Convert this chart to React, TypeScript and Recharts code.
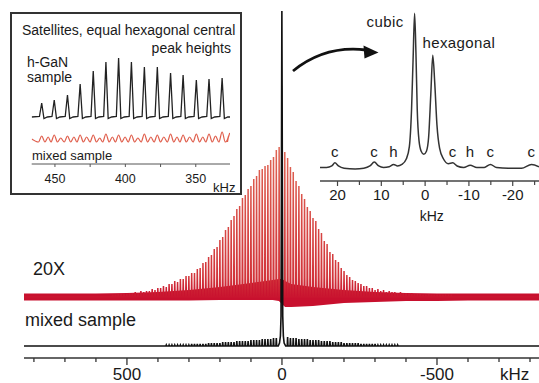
import React from 'react';
import { ComposedChart, Line, Area, Scatter, XAxis, YAxis } from 'recharts';

const FONT = '"Liberation Sans", Arial, sans-serif';
const INK = '#1a1a1a';

// ---- main spectrum (kHz axis, reversed) ----
const SPIN = 9.1; // sideband spacing, kHz
const RED_BASE = 49;
// 20X red trace: sideband heights for n = 1.. on the + side and - side
const redPlus = [
  150, 147, 140, 137, 132, 131, 128, 127, 121, 118,
  111, 108, 102, 99, 91, 88, 81, 77, 70, 67,
  60, 57, 50, 48, 42, 40, 35, 34, 29, 28,
  24, 24, 21, 21, 18, 18, 15, 16, 13, 13,
  10, 11, 9, 9, 7, 8, 6, 6, 5, 6,
  4, 5, 4, 4, 3, 3, 3, 3, 2, 2,
];
const redMinus = [
  145, 139, 130, 125, 116, 111, 103, 98, 90, 86,
  79, 76, 68, 64, 56, 53, 45, 43, 37, 35,
  29, 26, 22, 20, 17, 16, 14, 13, 11, 11,
  9, 9, 7, 8, 6, 7, 5, 6, 5, 5,
  4, 5, 4, 4, 3, 4, 3, 3, 3, 2,
  2, 3, 2, 2, 2, 2, 2, 1, 1, 1,
];
// noise band of the red trace (offsets from its baseline)
const bandKHz = [832, 700, 600, 500, 400, 300, 200, 100, 30, 10, 0, -10, -30, -100, -200, -300, -400, -500, -600, -700, -829];
const bandLo = [-3.5, -3.5, -3.5, -3.5, -3.5, -3.5, -3, -3, -3, -4, -7, -10, -10, -9, -6, -5, -4, -4, -3.5, -3.5, -3.5];
const bandHi = [3.5, 3.5, 3.5, 4, 5, 7, 10, 14, 17, 18, 18, 16, 13, 10, 7, 5, 4, 3.5, 3.5, 3.5, 3.5];
// black (mixed sample) trace: sidebands n = 2.. and central line
const blackPlus = [8, 8, 7, 7, 7, 7, 6, 6, 6, 6, 5, 5, 5, 5, 5, 4, 4, 4, 4, 4, 3, 3, 3, 3, 3, 2, 2, 2, 2, 2, 2, 1, 1, 1, 1, 1, 1, 1, 1, 1];
const blackMinus = [9, 8, 8, 8, 7, 7, 7, 7, 6, 6, 6, 6, 5, 5, 5, 5, 4, 4, 4, 4, 3, 3, 3, 3, 3, 3, 2, 2, 2, 2, 2, 2, 1, 1, 1, 1, 1, 1, 1, 1];
const centralKHz = [12, 8, 5, 3, 1.8, 1, 0.3, -0.5, -1.3, -2.5, -4.5, -7, -12];
const centralVal = [0, 3, 10, 30, 150, 260, 335, 260, 150, 30, 10, 3, 0];
const mainTicks = [-800, -700, -600, -500, -400, -300, -200, -100, 0, 100, 200, 300, 400, 500, 600, 700, 800];
const mainLabels = [500, 0, -500];

// ---- inset: satellites ----
const satKHz = [459.4, 450.5, 441.1, 432.1, 422.8, 413.8, 404.8, 395.7, 386.5, 377.3, 367.9, 359.0, 349.6, 340.6, 331.3];
const satBlack = [14, 17, 22, 33, 46, 55, 59, 55, 50, 50, 44, 42, 37, 38, 39];
const satRedA = [6, 7, 6, 7, 7, 8, 7, 7, 8, 7, 8, 7, 8, 8, 10];
const satRedB = [5, 4, 5, 5, 4, 5, 5, 4, 5, 5, 5, 5, 5, 6, 6];
const satTicks = [350, 375, 400, 425, 450];

// ---- inset: central region ----
const hiResKHz = [24, 22.5, 21.3, 20.6, 19.8, 18.5, 16, 14, 12.6, 11.6, 10.6, 9.5, 8.2, 7.2, 6.3, 5.3, 4.3, 3.6, 3.1, 2.75, 2.4, 2.1, 1.8, 1.4, 0.9, 0.3, -0.3, -0.8, -1.3, -1.75, -2.2, -2.7, -3.3, -4.2, -5.3, -6.3, -7.3, -8.8, -10.3, -11.8, -13.5, -14.9, -16.3, -19, -22, -24.3, -26];
const hiResVal = [0.5, 0.5, 1.5, 3.5, 1.5, 0, -0.5, 0, 1.5, 4, 1.5, 0.5, 1, 2.5, 1.5, 2.5, 6, 14, 38, 70, 100, 75, 38, 18, 11, 9, 11, 20, 48, 73, 55, 28, 13, 6, 3, 3.5, 1.5, 0.5, 2, 0.5, 0.5, 2.5, 0.5, 0, 0, 2.5, 1];
const hiResTicks = [-25, -20, -15, -10, -5, 0, 5, 10, 15, 20];
const peakTags = ['c', 'c', 'h', 'c', 'h', 'c', 'c'];
const peakTagKHz = [20.6, 11.6, 7.2, -6.3, -10.3, -14.9, -24.3];
const phaseNames = ['cubic', 'hexagonal'];
const phaseKHz = [9.15, -7.7];
const phaseVal = [91.5, 77.6];

type Pt = { x: number; y: number };

function spikes(plus: number[], minus: number[], base: number, first: number): Pt[] {
  const pts: Pt[] = [];
  plus.forEach((h, i) => {
    const p = (i + first) * SPIN;
    pts.push({ x: p - 1.2, y: base }, { x: p, y: base + h }, { x: p + 1.2, y: base });
  });
  minus.forEach((h, i) => {
    const p = -(i + first) * SPIN;
    pts.push({ x: p - 1.2, y: base }, { x: p, y: base + h }, { x: p + 1.2, y: base });
  });
  return pts;
}

const redData: Pt[] = [{ x: -829, y: RED_BASE }, ...spikes(redPlus, redMinus, RED_BASE, 1), { x: 832, y: RED_BASE }].sort((a, b) => a.x - b.x);
const blackData: Pt[] = [
  { x: -829, y: 0 },
  ...spikes(blackPlus, blackMinus, 0, 2),
  ...centralKHz.map((x, i) => ({ x, y: centralVal[i] })),
  { x: 832, y: 0 },
].sort((a, b) => a.x - b.x);
const bandData = bandKHz.map((x, i) => ({ x, band: [RED_BASE + bandLo[i], RED_BASE + bandHi[i]] }));

const satBlackData: Pt[] = [{ x: 466.5, y: 0 }];
satKHz.forEach((p, i) => {
  satBlackData.push({ x: p + 1.6, y: 0.5 }, { x: p, y: satBlack[i] }, { x: p - 1.6, y: -1.5 }, { x: p - 4, y: 0 });
});
satBlackData.push({ x: 325.7, y: 0 });

const RED_INSET = -25;
const satRedData: Pt[] = [{ x: 466.5, y: RED_INSET + 3 }];
satKHz.forEach((p, i) => {
  satRedData.push(
    { x: p + 2.3, y: RED_INSET },
    { x: p, y: RED_INSET + satRedA[i] },
    { x: p - 2.3, y: RED_INSET },
    { x: p - 4.6, y: RED_INSET + satRedB[i] },
  );
});
satRedData.push({ x: 327.5, y: RED_INSET }, { x: 325.9, y: RED_INSET + 9 });

const hiResData = hiResKHz.map((x, i) => ({ x, y: hiResVal[i] }));
const tagData = [
  ...peakTagKHz.map((x, i) => ({ x, y: 7.3, t: peakTags[i], fs: 15 })),
  ...phaseKHz.map((x, i) => ({ x, y: phaseVal[i], t: phaseNames[i], fs: 15 })),
];

const MainTick = (props: any) => {
  const { x, y, payload } = props;
  const major = mainLabels.includes(payload.value);
  return (
    <g>
      <line x1={x} x2={x} y1={y} y2={y + (major ? 7 : 4)} stroke="#333" strokeWidth={1.3} />
      {major && (
        <text x={x} y={y + 21.5} textAnchor="middle" fontSize={17} fill={INK} fontFamily={FONT}>
          {payload.value}
        </text>
      )}
    </g>
  );
};

const SatTick = (props: any) => {
  const { x, y, payload } = props;
  const major = payload.value % 50 === 0;
  return (
    <g>
      <line x1={x} x2={x} y1={y} y2={y + 3} stroke="#555" strokeWidth={1} />
      {major && (
        <text x={x} y={y + 19.4} textAnchor="middle" fontSize={12.5} fill={INK} fontFamily={FONT}>
          {payload.value}
        </text>
      )}
    </g>
  );
};

const HiResTick = (props: any) => {
  const { x, y, payload } = props;
  const major = payload.value % 10 === 0;
  return (
    <g>
      <line x1={x} x2={x} y1={y} y2={y + (major ? 5 : 4)} stroke="#444" strokeWidth={1.2} />
      {major && (
        <text x={x} y={y + 18.5} textAnchor="middle" fontSize={15} fill={INK} fontFamily={FONT}>
          {payload.value}
        </text>
      )}
    </g>
  );
};

const TagShape = (props: any) => {
  const { cx, cy, payload } = props;
  return (
    <text x={cx} y={cy} textAnchor="middle" fontSize={payload.fs} letterSpacing={0.4} fill={INK} fontFamily={FONT}>
      {payload.t}
    </text>
  );
};

const MainChart = () => (
  <ComposedChart width={539} height={383} margin={{ top: 0, right: 0, bottom: 0, left: 24 }}>
    <defs>
      <linearGradient id="redSpike" gradientUnits="userSpaceOnUse" x1="0" y1="300" x2="0" y2="150">
        <stop offset="0" stopColor="#c8102e" />
        <stop offset="0.15" stopColor="#d2343a" />
        <stop offset="1" stopColor="#df6453" />
      </linearGradient>
    </defs>
    <XAxis
      dataKey="x"
      type="number"
      domain={[-829, 832]}
      reversed
      allowDataOverflow
      ticks={mainTicks}
      interval={0}
      tick={(p: any) => <MainTick {...p} />}
      tickLine={false}
      tickSize={0}
      tickMargin={0}
      height={25}
      axisLine={{ stroke: '#333', strokeWidth: 1.5 }}
    />
    <YAxis hide type="number" dataKey="y" domain={[-12, 346]} allowDataOverflow />
    <Area
      data={bandData}
      dataKey="band"
      type="linear"
      stroke="none"
      fill="#c8102e"
      fillOpacity={1}
      dot={false}
      activeDot={false}
      isAnimationActive={false}
    />
    <Line data={redData} dataKey="y" type="linear" stroke="url(#redSpike)" strokeWidth={1.5} dot={false} activeDot={false} isAnimationActive={false} />
    <Line data={blackData} dataKey="y" type="linear" stroke="#111" strokeWidth={1.6} dot={false} activeDot={false} isAnimationActive={false} />
  </ComposedChart>
);

const SatelliteInset = () => (
  <ComposedChart width={242} height={195} margin={{ top: 50, right: 12, bottom: 0, left: 31.7 }}>
    <XAxis
      dataKey="x"
      type="number"
      domain={[325.7, 466.5]}
      reversed
      allowDataOverflow
      ticks={satTicks}
      interval={0}
      tick={(p: any) => <SatTick {...p} />}
      tickLine={false}
      tickSize={0}
      tickMargin={0}
      height={31}
      axisLine={{ stroke: '#555', strokeWidth: 1 }}
    />
    <YAxis hide type="number" dataKey="y" domain={[-47, 67]} allowDataOverflow />
    <Line data={satBlackData} dataKey="y" type="linear" stroke="#222" strokeWidth={1.3} dot={false} activeDot={false} isAnimationActive={false} />
    <Line data={satRedData} dataKey="y" type="monotone" stroke="#e0604e" strokeWidth={1.2} dot={false} activeDot={false} isAnimationActive={false} />
  </ComposedChart>
);

const CentralInset = () => (
  <ComposedChart width={539} height={201} margin={{ top: 5, right: 0, bottom: 0, left: 320 }}>
    <XAxis
      dataKey="x"
      type="number"
      domain={[-26, 24]}
      reversed
      allowDataOverflow
      ticks={hiResTicks}
      interval={0}
      tick={(p: any) => <HiResTick {...p} />}
      tickLine={false}
      tickSize={0}
      tickMargin={0}
      height={20}
      axisLine={{ stroke: '#444', strokeWidth: 1.3 }}
    />
    <YAxis hide type="number" dataKey="y" domain={[-8.2, 105.4]} allowDataOverflow />
    <Line data={hiResData} dataKey="y" type="monotone" stroke="#333" strokeWidth={1.5} dot={false} activeDot={false} isAnimationActive={false} />
    <Scatter data={tagData} dataKey="y" shape={(p: any) => <TagShape {...p} />} isAnimationActive={false} />
  </ComposedChart>
);

export default function App() {
  const abs: React.CSSProperties = { position: 'absolute', left: 0, top: 0 };
  return (
    <div style={{ position: 'absolute', left: 0, top: 0, width: 539, height: 383, background: '#fff', overflow: 'hidden' }}>
      <div style={abs}>
        <MainChart />
      </div>
      <div
        style={{
          position: 'absolute',
          left: 10,
          top: 12,
          width: 232,
          height: 183,
          border: '2px solid #333',
          boxSizing: 'border-box',
          background: '#fff',
        }}
      />
      <div style={abs}>
        <SatelliteInset />
      </div>
      <div style={abs}>
        <CentralInset />
      </div>
      <svg width={539} height={383} style={{ ...abs, pointerEvents: 'none' }} fontFamily={FONT} fill={INK}>
        <text x={22} y={35} fontSize={14}>Satellites, equal hexagonal central</text>
        <text x={231} y={52.5} fontSize={14} textAnchor="end">peak heights</text>
        <text x={27} y={66.5} fontSize={14}>h-GaN</text>
        <text x={27} y={81.5} fontSize={14}>sample</text>
        <text x={32} y={159.5} fontSize={13}>mixed sample</text>
        <text x={213} y={191.5} fontSize={13}>kHz</text>
        <text x={431.7} y={220.5} fontSize={14} textAnchor="middle">kHz</text>
        <text x={33} y={275} fontSize={18}>20X</text>
        <text x={25} y={325.5} fontSize={18}>mixed sample</text>
        <text x={500} y={379.5} fontSize={17}>kHz</text>
        <path d="M293,71 Q325,45 366,50" stroke="#111" strokeWidth={2.8} fill="none" />
        <polygon points="378.5,52.5 363.5,45.5 364.5,58.5" fill="#111" />
      </svg>
    </div>
  );
}
